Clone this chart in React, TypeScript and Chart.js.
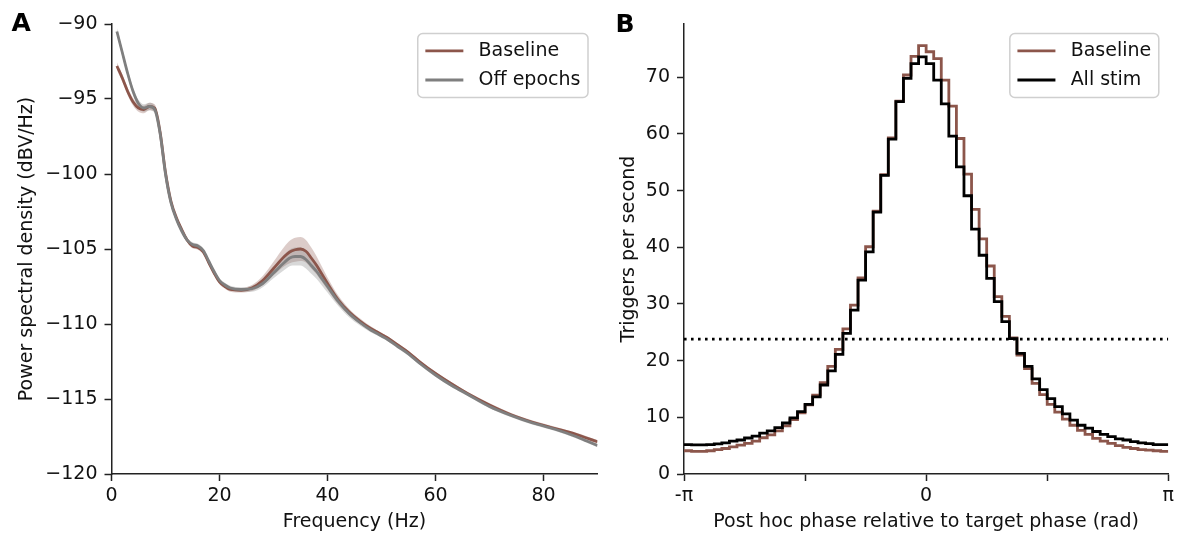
import React, { useEffect, useRef } from 'react';
import { Chart, registerables } from 'chart.js';

Chart.register(...registerables);

const FONT = '"DejaVu Sans", "Liberation Sans", sans-serif';
const FS = 19;
const BROWN = '#8c564b';
const GRAY = '#7f7f7f';
const AXIS = '#222';

// ---------- Panel A: power spectral density ----------
const psdFreqs = [1, 2, 3, 4, 5, 6, 7, 8, 9, 10, 11, 12, 13, 14, 15, 16, 17, 18, 19, 20, 21, 22, 24, 26, 28, 30, 32, 33, 34, 35, 36, 37, 38, 39, 40, 42, 44, 46, 48, 49.5, 50, 51, 53, 55, 57, 60, 63, 66, 70, 74, 78, 82, 86, 88, 90];
const baselinePsd = [-92.8, -93.6, -94.5, -95.2, -95.6, -95.7, -95.5, -95.6, -97.2, -99.9, -101.8, -102.9, -103.7, -104.4, -104.8, -104.9, -105.2, -105.9, -106.6, -107.2, -107.5, -107.7, -107.75, -107.6, -107.1, -106.3, -105.5, -105.2, -105.05, -105.0, -105.15, -105.6, -106.1, -106.7, -107.3, -108.4, -109.2, -109.8, -110.3, -110.6, -110.7, -110.9, -111.4, -111.9, -112.5, -113.3, -114.0, -114.65, -115.4, -116.05, -116.55, -116.95, -117.35, -117.6, -117.85];
const offEpochsPsd = [-90.5, -91.9, -93.3, -94.5, -95.3, -95.6, -95.5, -95.7, -97.3, -100.0, -101.9, -103.0, -103.8, -104.4, -104.7, -104.8, -105.1, -105.8, -106.5, -107.1, -107.4, -107.6, -107.7, -107.65, -107.3, -106.6, -105.9, -105.6, -105.5, -105.5, -105.7, -106.1, -106.5, -107.0, -107.5, -108.5, -109.3, -109.9, -110.4, -110.7, -110.8, -111.0, -111.5, -112.0, -112.6, -113.4, -114.1, -114.7, -115.5, -116.1, -116.6, -117.0, -117.5, -117.8, -118.1];
const baselineSem = [0.25, 0.25, 0.25, 0.25, 0.25, 0.25, 0.25, 0.25, 0.15, 0.15, 0.15, 0.15, 0.15, 0.15, 0.15, 0.15, 0.15, 0.15, 0.15, 0.15, 0.15, 0.15, 0.15, 0.2, 0.3, 0.45, 0.65, 0.75, 0.8, 0.8, 0.75, 0.7, 0.6, 0.5, 0.4, 0.3, 0.22, 0.18, 0.15, 0.12, 0.12, 0.12, 0.12, 0.12, 0.12, 0.12, 0.12, 0.12, 0.12, 0.12, 0.12, 0.12, 0.12, 0.12, 0.12];
const offEpochsSem = [0.25, 0.25, 0.25, 0.25, 0.25, 0.25, 0.25, 0.25, 0.15, 0.15, 0.15, 0.15, 0.15, 0.15, 0.15, 0.15, 0.15, 0.15, 0.15, 0.15, 0.15, 0.15, 0.15, 0.2, 0.25, 0.35, 0.5, 0.55, 0.6, 0.6, 0.6, 0.55, 0.5, 0.45, 0.4, 0.3, 0.25, 0.2, 0.15, 0.12, 0.12, 0.12, 0.12, 0.12, 0.12, 0.12, 0.12, 0.12, 0.12, 0.12, 0.12, 0.12, 0.12, 0.12, 0.12];
const psdXTicks = [0, 20, 40, 60, 80];
const psdYTicks = [-120, -115, -110, -105, -100, -95, -90];

// ---------- Panel B: triggers per second by phase ----------
const phaseBinCount = 64;
const baselineRate = [4.1, 4.0, 4.0, 4.1, 4.3, 4.5, 4.8, 5.1, 5.4, 5.8, 6.4, 6.9, 7.6, 8.5, 9.6, 10.8, 12.2, 13.9, 16.1, 19.0, 22.0, 25.6, 29.8, 34.6, 40.1, 46.4, 52.8, 59.3, 65.8, 70.4, 73.7, 75.6, 74.5, 73.3, 69.5, 64.9, 59.2, 52.9, 46.7, 41.5, 36.7, 31.3, 27.8, 24.0, 21.0, 18.6, 16.0, 14.0, 12.3, 10.9, 9.7, 8.6, 7.7, 7.0, 6.3, 5.8, 5.4, 5.0, 4.7, 4.5, 4.3, 4.2, 4.1, 4.0];
const allStimRate = [5.2, 5.15, 5.15, 5.2, 5.3, 5.5, 5.8, 6.0, 6.35, 6.7, 7.2, 7.6, 8.2, 9.0, 9.9, 11.0, 12.3, 13.6, 15.7, 18.2, 21.1, 24.8, 28.9, 34.2, 39.2, 46.2, 52.7, 59.1, 65.7, 69.8, 72.4, 73.6, 72.4, 69.5, 65.3, 59.6, 54.2, 49.1, 43.2, 38.6, 34.5, 30.4, 26.9, 23.9, 21.3, 19.0, 16.8, 14.9, 13.3, 11.9, 10.6, 9.5, 8.6, 8.1, 7.5, 7.0, 6.6, 6.2, 6.0, 5.7, 5.5, 5.35, 5.2, 5.2];
const thresholdRate = 23.8;
const rateMax = 79.4;
const rateYTicks = [0, 10, 20, 30, 40, 50, 60, 70];
const phaseTickValues = [-Math.PI, -Math.PI / 2, 0, Math.PI / 2, Math.PI];
const phaseTickLabels = ['-π', '', '0', '', 'π'];

const binEdges = Array.from({ length: phaseBinCount + 1 }, (_, i) => -Math.PI + (i * 2 * Math.PI) / phaseBinCount);
const stepData = (vals: number[]) => binEdges.map((x, i) => ({ x, y: vals[Math.min(i, vals.length - 1)] }));
const xy = (xs: number[], ys: number[]) => xs.map((x, i) => ({ x, y: ys[i] }));

const decorPlugin = {
  id: 'panelDecor',
  afterDraw(chart: any, _args: any, opts: any) {
    const ctx = chart.ctx as CanvasRenderingContext2D;
    ctx.save();
    ctx.fillStyle = '#000';
    ctx.font = `bold 25px ${FONT}`;
    ctx.textAlign = 'left';
    ctx.textBaseline = 'alphabetic';
    ctx.fillText(opts.letter, opts.letterX, opts.letterY);

    ctx.font = `${FS}px ${FONT}`;
    const items = opts.items as { label: string; color: string }[];
    const textW = Math.max(...items.map((it) => ctx.measureText(it.label).width));
    const pad = 0.4 * FS, handle = 2 * FS, gap = 0.8 * FS, rowH = 19.6, spacing = 0.5 * FS;
    const w = pad + handle + gap + textW + pad;
    const h = 2 * pad + items.length * rowH + (items.length - 1) * spacing;
    const right = chart.chartArea.right - 0.5 * FS;
    const top = chart.chartArea.top + 0.5 * FS;
    const left = right - w;
    ctx.beginPath();
    (ctx as any).roundRect(left, top, w, h, 5);
    ctx.fillStyle = 'rgba(255,255,255,0.8)';
    ctx.fill();
    ctx.strokeStyle = '#cfcfcf';
    ctx.lineWidth = 1.5;
    ctx.stroke();
    items.forEach((it, i) => {
      const cy = top + pad + rowH / 2 + i * (rowH + spacing);
      ctx.beginPath();
      ctx.moveTo(left + pad, cy);
      ctx.lineTo(left + pad + handle, cy);
      ctx.strokeStyle = it.color;
      ctx.lineWidth = 2.8;
      ctx.stroke();
      ctx.fillStyle = '#111';
      ctx.textBaseline = 'middle';
      ctx.fillText(it.label, left + pad + handle + gap, cy);
    });
    ctx.restore();
  },
};

const axisCommon = (title: string, titlePad: any, isY: boolean) => ({
  type: 'linear',
  grid: { drawOnChartArea: false, drawTicks: true, tickLength: 7, tickWidth: 1.5, tickColor: AXIS },
  border: { display: true, color: AXIS, width: 1.5 },
  ticks: { font: { family: FONT, size: FS }, color: '#111', padding: isY ? 7 : 4, maxRotation: 0, autoSkip: false },
  title: { display: true, text: title, font: { family: FONT, size: FS }, color: '#111', padding: titlePad },
});

function leftConfig(): any {
  const band = (vals: number[], sem: number[], sign: number) => xy(psdFreqs, vals.map((v, i) => v + sign * sem[i]));
  const lineBase = { pointRadius: 0, cubicInterpolationMode: 'monotone' };
  return {
    type: 'line',
    data: {
      datasets: [
        { ...lineBase, label: 'b_up', data: band(baselinePsd, baselineSem, 1), borderWidth: 0, fill: false, order: 6 },
        { ...lineBase, label: 'b_lo', data: band(baselinePsd, baselineSem, -1), borderWidth: 0, fill: '-1', backgroundColor: 'rgba(140,86,75,0.3)', order: 5 },
        { ...lineBase, label: 'o_up', data: band(offEpochsPsd, offEpochsSem, 1), borderWidth: 0, fill: false, order: 4 },
        { ...lineBase, label: 'o_lo', data: band(offEpochsPsd, offEpochsSem, -1), borderWidth: 0, fill: '-1', backgroundColor: 'rgba(127,127,127,0.3)', order: 3 },
        { ...lineBase, label: 'Baseline', data: xy(psdFreqs, baselinePsd), borderColor: BROWN, borderWidth: 2.8, fill: false, order: 2 },
        { ...lineBase, label: 'Off epochs', data: xy(psdFreqs, offEpochsPsd), borderColor: GRAY, borderWidth: 2.8, fill: false, order: 1 },
      ],
    },
    options: {
      responsive: false,
      animation: false,
      events: [],
      layout: { padding: { left: 0, top: 24, right: 7.5, bottom: 0 } },
      plugins: {
        legend: { display: false },
        tooltip: { enabled: false },
        panelDecor: { letter: 'A', letterX: 11.5, letterY: 31, items: [{ label: 'Baseline', color: BROWN }, { label: 'Off epochs', color: GRAY }] },
      },
      scales: {
        x: {
          ...axisCommon('Frequency (Hz)', { top: 0, bottom: 3 }, false),
          min: 0, max: 90,
          afterBuildTicks: (s: any) => { s.ticks = psdXTicks.map((v) => ({ value: v })); },
          afterFit: (s: any) => { s.height = 62; },
        },
        y: {
          ...axisCommon('Power spectral density (dBV/Hz)', { top: 16, bottom: 0 }, true),
          min: -120, max: -90,
          afterBuildTicks: (s: any) => { s.ticks = psdYTicks.map((v) => ({ value: v })); },
          afterFit: (s: any) => { s.width = 111.5; },
          ticks: { font: { family: FONT, size: FS }, color: '#111', padding: 7, callback: (v: number) => String(v).replace('-', '\u2212') },
        },
      },
    },
    plugins: [decorPlugin],
  };
}

function rightConfig(): any {
  return {
    type: 'line',
    data: {
      datasets: [
        { label: 'Threshold', data: [{ x: -Math.PI, y: thresholdRate }, { x: Math.PI, y: thresholdRate }], borderColor: '#000', borderWidth: 2.8, borderDash: [2.6, 4.4], pointRadius: 0, fill: false, order: 1 },
        { label: 'All stim', data: stepData(allStimRate), stepped: 'before', borderColor: '#000', borderWidth: 2.8, pointRadius: 0, fill: false, order: 2 },
        { label: 'Baseline', data: stepData(baselineRate), stepped: 'before', borderColor: BROWN, borderWidth: 2.8, pointRadius: 0, fill: false, order: 3 },
      ],
    },
    options: {
      responsive: false,
      animation: false,
      events: [],
      layout: { padding: { left: 0, top: 24, right: 6, bottom: 0 } },
      plugins: {
        legend: { display: false },
        tooltip: { enabled: false },
        panelDecor: { letter: 'B', letterX: 10.5, letterY: 31.5, items: [{ label: 'Baseline', color: BROWN }, { label: 'All stim', color: '#000' }] },
      },
      scales: {
        x: {
          ...axisCommon('Post hoc phase relative to target phase (rad)', { top: 0, bottom: 3 }, false),
          min: -Math.PI, max: Math.PI,
          afterBuildTicks: (s: any) => { s.ticks = phaseTickValues.map((v) => ({ value: v })); },
          afterFit: (s: any) => { s.height = 62; },
          ticks: { font: { family: FONT, size: FS }, color: '#111', padding: 4, maxRotation: 0, autoSkip: false, callback: (_v: number, i: number) => phaseTickLabels[i] },
        },
        y: {
          ...axisCommon('Triggers per second', { top: 13, bottom: 0 }, true),
          min: 0, max: rateMax,
          afterBuildTicks: (s: any) => { s.ticks = rateYTicks.map((v) => ({ value: v })); },
          afterFit: (s: any) => { s.width = 79; },
        },
      },
    },
    plugins: [decorPlugin],
  };
}

export default function App() {
  const leftRef = useRef<HTMLCanvasElement>(null);
  const rightRef = useRef<HTMLCanvasElement>(null);
  useEffect(() => {
    const c1 = new Chart(leftRef.current as HTMLCanvasElement, leftConfig());
    const c2 = new Chart(rightRef.current as HTMLCanvasElement, rightConfig());
    return () => { c1.destroy(); c2.destroy(); };
  }, []);
  return (
    <div style={{ position: 'fixed', left: 0, top: 0, width: 1178, height: 536, background: '#fff', overflow: 'hidden' }}>
      <canvas ref={leftRef} width={605} height={536} style={{ position: 'absolute', left: 0, top: 0, width: 605, height: 536 }} />
      <canvas ref={rightRef} width={573} height={536} style={{ position: 'absolute', left: 605, top: 0, width: 573, height: 536 }} />
    </div>
  );
}
